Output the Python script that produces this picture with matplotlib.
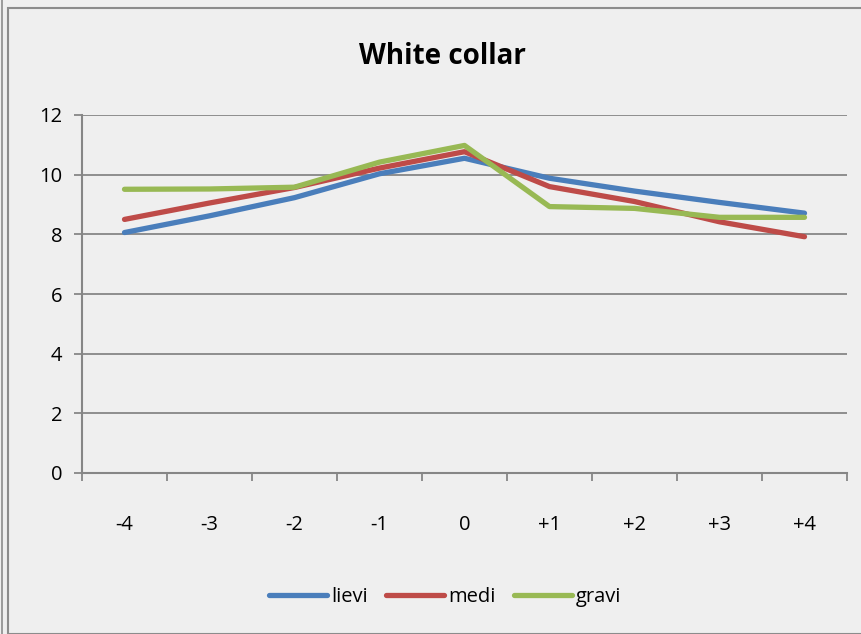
import matplotlib
matplotlib.use("Agg")
from matplotlib import pyplot as plt
from matplotlib.patches import Rectangle

plt.rcParams['font.family'] = ['Open Sans', 'DejaVu Sans']

categories = ["-4", "-3", "-2", "-1", "0", "+1", "+2", "+3", "+4"]
lievi = [8.06, 8.62, 9.23, 10.03, 10.55, 9.88, 9.45, 9.07, 8.71]
medi = [8.50, 9.05, 9.57, 10.22, 10.77, 9.60, 9.10, 8.42, 7.92]
gravi = [9.51, 9.52, 9.58, 10.42, 10.98, 8.93, 8.87, 8.57, 8.57]
series_names = ["lievi", "medi", "gravi"]
colors = ["#4A7EBB", "#BE4B48", "#98B954"]

bg = "#EFEFEF"
fig = plt.figure(figsize=(8.62, 6.34), dpi=100, facecolor=bg)
ax = fig.add_axes([82 / 862, 1 - 473 / 634, 765 / 862, 358 / 634])
ax.set_facecolor(bg)

# chart frame
fig.patches.append(Rectangle((8 / 862, 0), 1, 1 - 8 / 634, transform=fig.transFigure,
                             fill=False, edgecolor="#8C8C8C", linewidth=1.5))
fig.patches.append(Rectangle((2 / 862, 0), 0, 1, transform=fig.transFigure,
                             fill=False, edgecolor="#8C8C8C", linewidth=1.2))

x = range(len(categories))
for vals, name, c in zip([lievi, medi, gravi], series_names, colors):
    ax.plot(x, vals, color=c, linewidth=3.8, solid_capstyle="round",
            solid_joinstyle="round", label=name, zorder=3)

ax.set_xlim(-0.5, len(categories) - 0.5)
ax.set_ylim(0, 12)
ax.set_yticks(range(0, 13, 2))
ax.yaxis.grid(True, color="#868686", linewidth=1.3)
ax.set_axisbelow(True)

ax.set_xticks(list(x))
ax.set_xticklabels(categories)
ax.set_xticks([i - 0.5 for i in range(len(categories) + 1)], minor=True)
ax.tick_params(axis="x", which="major", length=0, pad=30, labelsize=14.5)
ax.tick_params(axis="x", which="minor", length=6, width=1.3, color="#868686")
ax.tick_params(axis="y", length=6, width=1.3, color="#868686", labelsize=14.5, pad=8)

for side in ["top", "right"]:
    ax.spines[side].set_visible(False)
for side in ["left", "bottom"]:
    ax.spines[side].set_color("#868686")
    ax.spines[side].set_linewidth(1.5)

fig.text(442 / 862, 1 - 57 / 634, "White collar", ha="center", va="center",
         fontsize=20, fontweight="bold")

fig.legend(loc="center", bbox_to_anchor=(445 / 862, 1 - 597 / 634), ncol=3,
           frameon=False, fontsize=14.5, handlelength=2.9, columnspacing=0.9,
           handletextpad=0.2)

fig.savefig("out.png", dpi=100, facecolor=bg)
